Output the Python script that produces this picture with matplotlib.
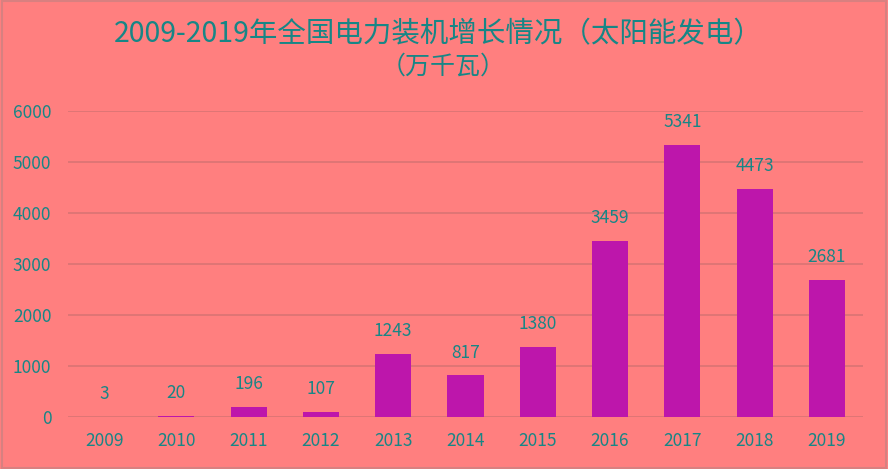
import matplotlib as mpl
import matplotlib.pyplot as plt
import numpy as np

years = ["2009", "2010", "2011", "2012", "2013", "2014",
         "2015", "2016", "2017", "2018", "2019"]
capacity = [3, 20, 196, 107, 1243, 817, 1380, 3459, 5341, 4473, 2681]
yticks = [0, 1000, 2000, 3000, 4000, 5000, 6000]

BG = "#FF7F7F"
TEXT = "#178686"
BAR = "#BD16AB"
GRID = "#D97474"

mpl.rcParams["font.family"] = ["Noto Sans CJK SC", "DejaVu Sans"]

fig = plt.figure(figsize=(8.88, 4.69), dpi=100, facecolor=BG)
ax = fig.add_axes([68 / 888, 1 - 417 / 469, 795 / 888, 306 / 469])
ax.set_facecolor(BG)

x = np.arange(len(years))
ax.bar(x, capacity, width=0.5, color=BAR, zorder=3)
for xi, v in zip(x, capacity):
    ax.text(xi, v + 270, str(v), ha="center", va="bottom",
            color=TEXT, fontsize=12.5, clip_on=False)

ax.set_xlim(-0.5, len(years) - 0.5)
ax.set_ylim(0, 6000)
ax.set_yticks(yticks)
ax.set_yticklabels([str(t) for t in yticks])
ax.set_xticks(x)
ax.set_xticklabels(years)
ax.tick_params(axis="both", length=0, colors=TEXT, labelsize=12.5)
ax.tick_params(axis="x", pad=11)
ax.tick_params(axis="y", pad=12)
ax.grid(axis="y", color=GRID, lw=1.2, zorder=0)
for s in ax.spines.values():
    s.set_visible(False)

fig.text(438 / 888, 1 - 34 / 469, "2009-2019年全国电力装机增长情况（太阳能发电）",
         ha="center", va="center", color=TEXT, fontsize=20.5)
fig.text(443 / 888, 1 - 67 / 469, "（万千瓦）",
         ha="center", va="center", color=TEXT, fontsize=18)

fig.add_artist(plt.Rectangle((0.002, 0.003), 0.996, 0.994, transform=fig.transFigure,
                             fill=False, edgecolor="#D88080", lw=1.5))

fig.savefig("out.png", dpi=100, facecolor=BG)
